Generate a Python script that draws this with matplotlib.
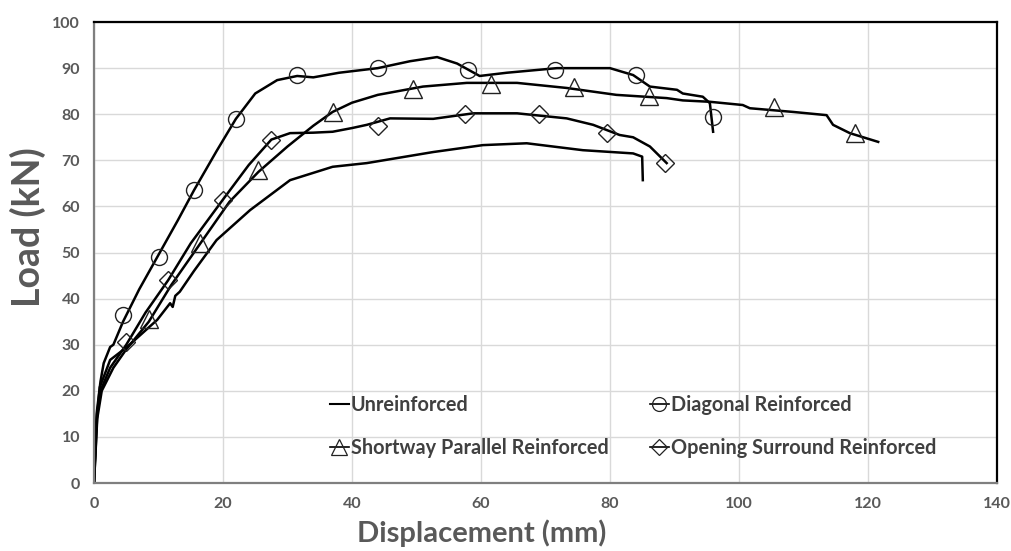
import matplotlib
matplotlib.use("Agg")
import matplotlib.pyplot as plt
from matplotlib.lines import Line2D

plt.rcParams['font.family'] = ['Lato', 'DejaVu Sans']

# Unreinforced
unr_x = [0, 0.3, 0.9, 2.5, 5.1, 7.1, 9.8, 11.8, 12.2, 12.6, 13.3, 15.5, 19, 24.2, 30.4, 37, 42.3, 52.6, 60.3, 67.1, 75.8, 83.6, 85, 85.1]
unr_y = [0, 12, 20.8, 26.7, 29.5, 32, 35.4, 39, 38.2, 40.6, 41.5, 46, 52.7, 59.2, 65.7, 68.6, 69.4, 71.8, 73.3, 73.7, 72.2, 71.5, 70.8, 65.7]

# Diagonal Reinforced
dia_x = [0, 0.4, 1, 1.5, 2.5, 3, 4.5, 7, 10, 13, 15.5, 19, 22, 25, 28.4, 31.5, 34, 38, 44, 49, 53.2, 56.3, 59.8, 64, 71.8, 80, 83.6, 86.2, 90.4, 91.3, 94.4, 95.5, 96]
dia_y = [0, 15, 22, 26, 29.5, 30, 35, 42, 49.5, 57, 63.5, 72, 79, 84.5, 87.4, 88.3, 88, 89, 90, 91.5, 92.4, 91, 88.3, 89, 90, 90, 88.5, 86, 85.3, 84.5, 83.8, 82.4, 76.2]
dia_mx = [4.5, 10, 15.5, 22, 31.5, 44, 58, 71.5, 84, 96]
dia_my = [36.5, 49, 63.5, 79, 88.5, 90, 89.5, 89.5, 88.5, 79.5]

# Shortway Parallel Reinforced
sho_x = [0, 0.5, 1.2, 3, 5, 8.5, 12, 16.5, 21, 25.5, 30, 34, 37, 40, 44, 51, 57.8, 65.6, 73.3, 81, 88.8, 91.3, 95.5, 100.6, 101.7, 108.4, 113.6, 114.6, 117.2, 121.6]
sho_y = [0, 14, 20, 25, 29, 35, 43, 52, 61, 67.5, 73, 77.5, 80.5, 82.5, 84.2, 86, 86.8, 86.8, 85.7, 84.2, 83.5, 83, 82.7, 82, 81.3, 80.5, 79.8, 77.7, 75.9, 74]
sho_mx = [8.5, 16.5, 25.5, 37, 49.5, 61.5, 74.5, 86, 105.5, 118]
sho_my = [35.5, 52, 68, 80.5, 85.5, 86.5, 86, 84, 81.5, 76]

# Opening Surround Reinforced
ope_x = [0, 0.5, 1, 2.5, 5, 8, 11.5, 15, 20, 24, 27.5, 30.4, 34, 37, 40, 42.3, 45.9, 52.6, 58.8, 65.6, 73.3, 77.4, 81.5, 83.6, 86.2, 88.8]
ope_y = [0, 15, 20, 25, 30, 37, 44, 52, 61.5, 69, 74.5, 75.9, 76, 76.2, 77, 77.7, 79.1, 79, 80.2, 80.2, 79.1, 77.7, 75.5, 75, 73, 69.4]
ope_mx = [5, 11.5, 20, 27.5, 44, 57.5, 69, 79.5, 88.5]
ope_my = [30.5, 44, 61.5, 74.5, 77.5, 80, 80, 76, 69.5]

labels = ['Unreinforced', 'Diagonal Reinforced', 'Shortway Parallel Reinforced', 'Opening Surround Reinforced']

fig = plt.figure(figsize=(10.11, 5.51), dpi=100)
ax = fig.add_axes([0.093, 0.1234, 0.893, 0.8366])

lw = 1.8
ax.plot(unr_x, unr_y, color='black', lw=lw)
ax.plot(dia_x, dia_y, color='black', lw=lw)
ax.plot(sho_x, sho_y, color='black', lw=lw)
ax.plot(ope_x, ope_y, color='black', lw=lw)

mk = dict(linestyle='none', markerfacecolor='none', markeredgecolor='#222222', markeredgewidth=1.0)
ax.plot(dia_mx, dia_my, marker='o', markersize=11.5, **mk)
ax.plot(sho_mx, sho_my, marker='^', markersize=13, **mk)
ax.plot(ope_mx, ope_my, marker='D', markersize=9.5, **mk)

ax.set_xlim(0, 140)
ax.set_ylim(0, 100)
ax.set_xticks(range(0, 141, 20))
ax.set_yticks(range(0, 101, 10))
ax.grid(True, color='#d9d9d9', lw=1)
ax.set_axisbelow(True)
ax.tick_params(length=0, labelsize=11.5, labelcolor='#595959', pad=10)
for lab in ax.get_xticklabels() + ax.get_yticklabels():
    lab.set_fontweight('bold')

for s in ['top', 'right']:
    ax.spines[s].set_color('black')
    ax.spines[s].set_linewidth(1.6)
for s in ['left', 'bottom']:
    ax.spines[s].set_color('#7f7f7f')
    ax.spines[s].set_linewidth(1.6)

fig.text(0.476, 0.008, 'Displacement (mm)', fontsize=21, color='#595959', ha='center', va='bottom',
         fontweight='bold')
fig.text(0.01, 0.587, 'Load (kN)', fontsize=27, color='#595959', ha='left', va='center',
         rotation=90, fontweight='bold')

lk = dict(color='black', lw=1.2, markerfacecolor='none', markeredgecolor='#222222', markeredgewidth=0.9)
handles = [
    Line2D([], [], color='black', lw=1.5),
    Line2D([], [], marker='o', markersize=10, **lk),
    Line2D([], [], marker='^', markersize=11, **lk),
    Line2D([], [], marker='D', markersize=8, **lk),
]
order = [0, 2, 1, 3]
leg = ax.legend([handles[i] for i in order], [labels[i] for i in order], ncol=2, frameon=False,
                loc='upper left', bbox_to_anchor=(0.261, 0.19), borderaxespad=0, borderpad=0,
                handlelength=0.95, handletextpad=0.1, columnspacing=2.1, labelspacing=1.15,
                prop={'weight': 'bold', 'size': 14.3})
for t in leg.get_texts():
    t.set_color('#404040')

fig.savefig('out.png', dpi=100)
